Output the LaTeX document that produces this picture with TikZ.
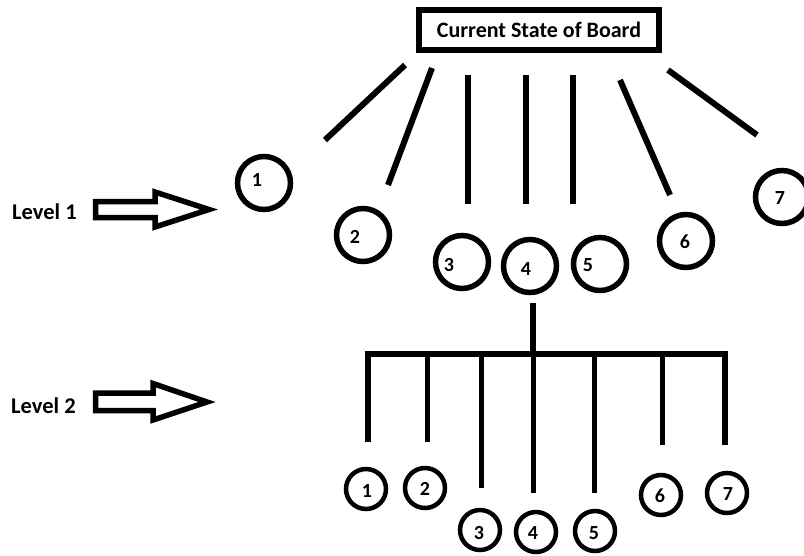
\documentclass[tikz,border=0pt]{standalone}
\usepackage{fontspec}
\setmainfont{Carlito}
\begin{document}
\begin{tikzpicture}[x=1pt,y=-1pt,
  lbl/.style={font=\bfseries\fontsize{20}{20}\selectfont, text=black, inner sep=0pt},
  lvl/.style={font=\bfseries\fontsize{22.5}{22.5}\selectfont, text=black, inner sep=0pt},
  cA/.style={circle, draw, line width=5.5pt, minimum size=53pt, inner sep=0pt},
  cB/.style={circle, draw, line width=4.5pt, minimum size=40pt, inner sep=0pt},
  stroke/.style={line width=6pt},
  thin stroke/.style={line width=5pt},
  bigarrow/.style={draw, line width=5.5pt, line join=miter, fill=white}]
\useasboundingbox (0,0) rectangle (804,555);
% title
\node[draw, line width=6.5pt, minimum width=240pt, minimum height=40pt, inner sep=0pt,
      font=\bfseries\fontsize{22}{22}\selectfont] (title) at (539,30) {Current State of Board};
% level 1 circles
\node[cA] (a1) at (264,183) {};
\node[cA] (a2) at (363,235) {};
\node[cA] (a3) at (462,262) {};
\node[cA] (a4) at (530,266) {};
\node[cA] (a5) at (600,264) {};
\node[cA] (a6) at (686,241) {};
\node[cA] (a7) at (782,197) {};
\node[lbl] at (257,180) {1};
\node[lbl] at (355,237) {2};
\node[lbl] at (449,265) {3};
\node[lbl] at (526,269) {4};
\node[lbl] at (588,265) {5};
\node[lbl] at (685,242) {6};
\node[lbl] at (780,198) {7};
% level 1 branches
\coordinate (s1) at (405,65);  \coordinate (e1) at (325,140);
\coordinate (s2) at (432,68);  \coordinate (e2) at (388,185);
\coordinate (s3) at (468,75);  \coordinate (e3) at (468,204);
\coordinate (s4) at (526,75);  \coordinate (e4) at (526,204);
\coordinate (s5) at (573,75);  \coordinate (e5) at (573,204);
\coordinate (s6) at (620,80);  \coordinate (e6) at (670,195);
\coordinate (s7) at (668,70);  \coordinate (e7) at (757,135);
\foreach \i in {1,...,7} { \draw[stroke] (s\i) -- (e\i); }
% level arrows and labels
\node[lvl, anchor=west] (lv1) at (12,212) {Level 1};
\node[lvl, anchor=west] (lv2) at (11,406) {Level 2};
\draw[bigarrow] (95.5,201.5) -- (155,201.5) -- (155,192) -- (209,209.5) -- (155,227) -- (155,217.5) -- (95.5,217.5) -- cycle;
\draw[bigarrow] (95.5,393) -- (153,393) -- (153,383.5) -- (207,402) -- (153,420) -- (153,410.5) -- (95.5,410.5) -- cycle;
% level 2 tree
\coordinate (top4) at (533,303);
\coordinate (j) at (533,354);
\coordinate (bl) at (368,354);
\coordinate (brr) at (725,354);
\draw[stroke] (top4) -- (j);
\draw[stroke, line join=miter] (368,442) -- (bl) -- (brr) -- (725,445);
\coordinate (u2) at (427,354); \coordinate (d2) at (427,442);
\coordinate (u3) at (481,354); \coordinate (d3) at (481,488);
\coordinate (u4) at (533,354); \coordinate (d4) at (533,493);
\coordinate (u5) at (594,354); \coordinate (d5) at (594,493);
\coordinate (u6) at (662,354); \coordinate (d6) at (662,445);
\foreach \i in {2,...,6} { \draw[thin stroke] (u\i) -- (d\i); }
% level 2 circles
\node[cB] (b1) at (366,489) {};
\node[cB] (b2) at (425,488) {};
\node[cB] (b3) at (480,530) {};
\node[cB] (b4) at (536,532) {};
\node[cB] (b5) at (595,531) {};
\node[cB] (b6) at (661,495) {};
\node[cB] (b7) at (727,493) {};
\node[lbl] at (367,491) {1};
\node[lbl] at (425,489) {2};
\node[lbl] at (479,533) {3};
\node[lbl] at (533,533) {4};
\node[lbl] at (594,533) {5};
\node[lbl] at (660,496) {6};
\node[lbl] at (728,494) {7};
\end{tikzpicture}
\end{document}
